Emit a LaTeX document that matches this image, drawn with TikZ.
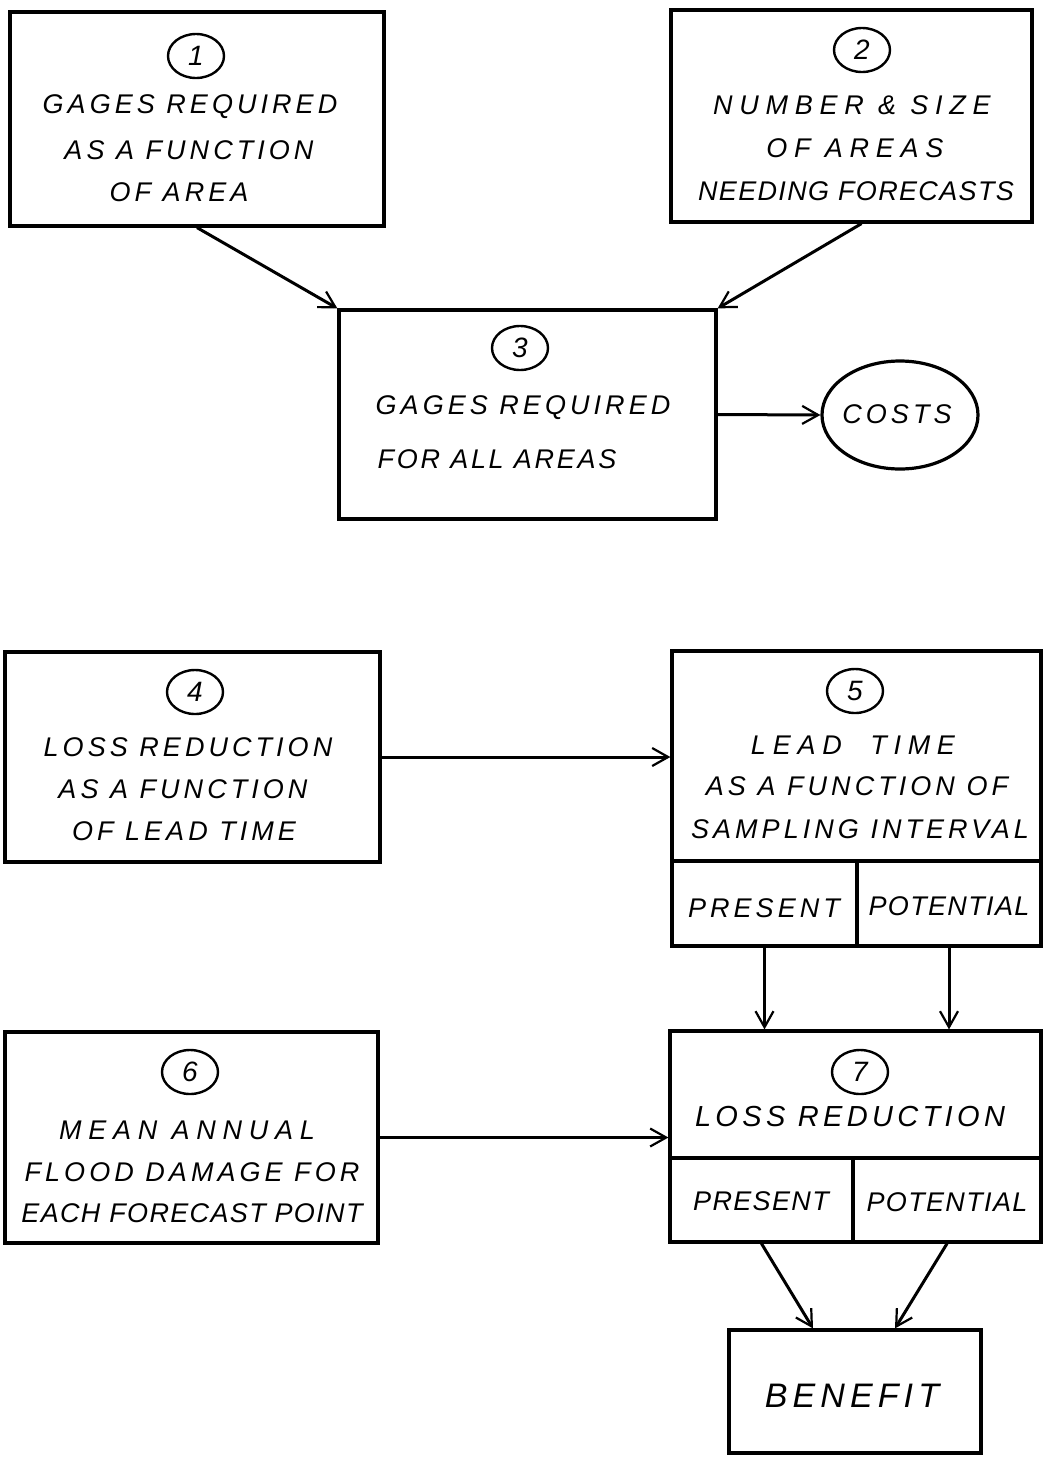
\documentclass[tikz,border=0pt]{standalone}
\usepackage{fontspec}
\newfontfamily\hand[LetterSpace=15]{Liberation Sans}
\newfontfamily\handn[LetterSpace=5]{Liberation Sans}
\newfontfamily\handm[LetterSpace=10]{Liberation Sans}
\newfontfamily\handw[LetterSpace=25]{Liberation Sans}
\usetikzlibrary{arrows.meta,shapes.geometric}
\begin{document}
\begin{tikzpicture}[x=0.5pt,y=-0.5pt,
  box/.style={draw, rectangle, line width=1.6pt, inner sep=0pt},
  lbl/.style={inner sep=0pt, anchor=center, font=\hand\itshape\fontsize{13.5}{15}\selectfont},
  lbln/.style={inner sep=0pt, anchor=center, font=\handn\itshape\fontsize{13.5}{15}\selectfont},
  lblm/.style={inner sep=0pt, anchor=center, font=\handm\itshape\fontsize{13.5}{15}\selectfont},
  lblw/.style={inner sep=0pt, anchor=center, font=\handw\itshape\fontsize{13.5}{15}\selectfont},
  lblx/.style={inner sep=0pt, anchor=center, font=\hand\itshape\fontsize{17}{19}\selectfont},
  lbly/.style={inner sep=0pt, anchor=center, font=\hand\itshape\fontsize{14.5}{16}\selectfont},
  num/.style={draw, ellipse, line width=1.2pt, minimum width=28pt, minimum height=22pt, inner sep=0pt, font=\hand\itshape\fontsize{14}{16}\selectfont},
  arr/.style={line width=1.5pt, -{Straight Barb[length=8pt,width=9pt,line width=1.1pt]}}
]
\useasboundingbox (0,0) rectangle (1044,1457);
\fill[white] (0,0) rectangle (1044,1457);

% boxes
\node[box, minimum width=187pt, minimum height=107pt] (b1) at (197,119) {};
\node[box, minimum width=180.5pt, minimum height=106pt] (b2) at (851.5,116) {};
\node[box, minimum width=188.5pt, minimum height=104.5pt] (b3) at (527.5,414.5) {};
\node[draw, ellipse, line width=1.6pt, minimum width=78pt, minimum height=54pt, inner sep=0pt] (costs) at (900,415) {};
\node[box, minimum width=187.5pt, minimum height=105pt] (b4) at (192.5,757) {};
\node[box, minimum width=184.5pt, minimum height=105pt] (b5) at (856.5,756) {};
\node[box, minimum width=92.5pt, minimum height=42.5pt] (p5) at (764.5,903.5) {};
\node[box, minimum width=92pt, minimum height=42.5pt] (q5) at (949,903.5) {};
\node[box, minimum width=186.5pt, minimum height=105.5pt] (b6) at (191.5,1137.5) {};
\node[box, minimum width=185.5pt, minimum height=63.5pt] (b7) at (855.5,1094.5) {};
\node[box, minimum width=91.5pt, minimum height=42pt] (p7) at (761.5,1200) {};
\node[box, minimum width=94pt, minimum height=42pt] (q7) at (947,1200) {};
\node[box, minimum width=126pt, minimum height=61.5pt] (ben) at (855,1391.5) {};

% box 1
\node[num] (n1) at (196,56) {1};
\node[lbl] (t1a) at (190,107) {GAGES REQUIRED};
\node[lbl] (t1b) at (189,150) {AS A FUNCTION};
\node[lbl] (t1c) at (179,192) {OF AREA};
% box 2
\node[num] (n2) at (862,50) {2};
\node[lblw] (t2a) at (852,105) {NUMBER \& SIZE};
\node[lblw] (t2b) at (855,148) {OF AREAS};
\node[lbln] (t2c) at (856,191) {NEEDING FORECASTS};
% box 3
\node[num] (n3) at (520,348) {3};
\node[lbl] (t3a) at (523,408) {GAGES REQUIRED};
\node[lblm] (t3b) at (497,459) {FOR ALL AREAS};
% costs
\node[lbl] (tc) at (897,414) {COSTS};
% box 4
\node[num] (n4) at (195,692) {4};
\node[lbl] (t4a) at (188,747) {LOSS REDUCTION};
\node[lbl] (t4b) at (183,789) {AS A FUNCTION};
\node[lbl] (t4c) at (184,831) {OF LEAD TIME};
% box 5
\node[num] (n5) at (855,691) {5};
\node[lblw] (t5a) at (853,745) {LEAD\ \ TIME};
\node[lbl] (t5b) at (857,786) {AS A FUNCTION OF};
\node[lbl] (t5c) at (860,829) {SAMPLING INTERVAL};
\node[lbl] (t5d) at (764,908) {PRESENT};
\node[lbln] (t5e) at (949,906) {POTENTIAL};
% box 6
\node[num] (n6) at (190,1072) {6};
\node[lblw] (t6a) at (187,1130) {MEAN ANNUAL};
\node[lbl] (t6b) at (192,1172) {FLOOD DAMAGE FOR};
\node[lbln] (t6c) at (192,1213) {EACH FORECAST POINT};
% box 7
\node[num] (n7) at (860,1072) {7};
\node[lbly] (t7a) at (850,1117) {LOSS REDUCTION};
\node[lbln] (t7b) at (761,1201) {PRESENT};
\node[lbln] (t7c) at (947,1202) {POTENTIAL};
% benefit
\node[lblx] (tb) at (852,1396) {BENEFIT};

% connectors
\draw[arr] (b1.south) -- (b3.north west);
\draw[arr] ([xshift=5pt]b2.south) -- (b3.north east);
\draw[arr] (b3.east) -- (costs.west);
\draw[arr] (b4.east) -- (b4.east -| b5.west);
\draw[arr] (p5.south) -- (p5.south |- b7.north);
\draw[arr] (q5.south) -- (q5.south |- b7.north);
\draw[arr] (b6.east) -- (b6.east -| b7.west);
\draw[arr] (p7.south) -- ([xshift=-21pt]ben.north);
\draw[arr] (q7.south) -- ([xshift=20pt]ben.north);
\end{tikzpicture}
\end{document}
